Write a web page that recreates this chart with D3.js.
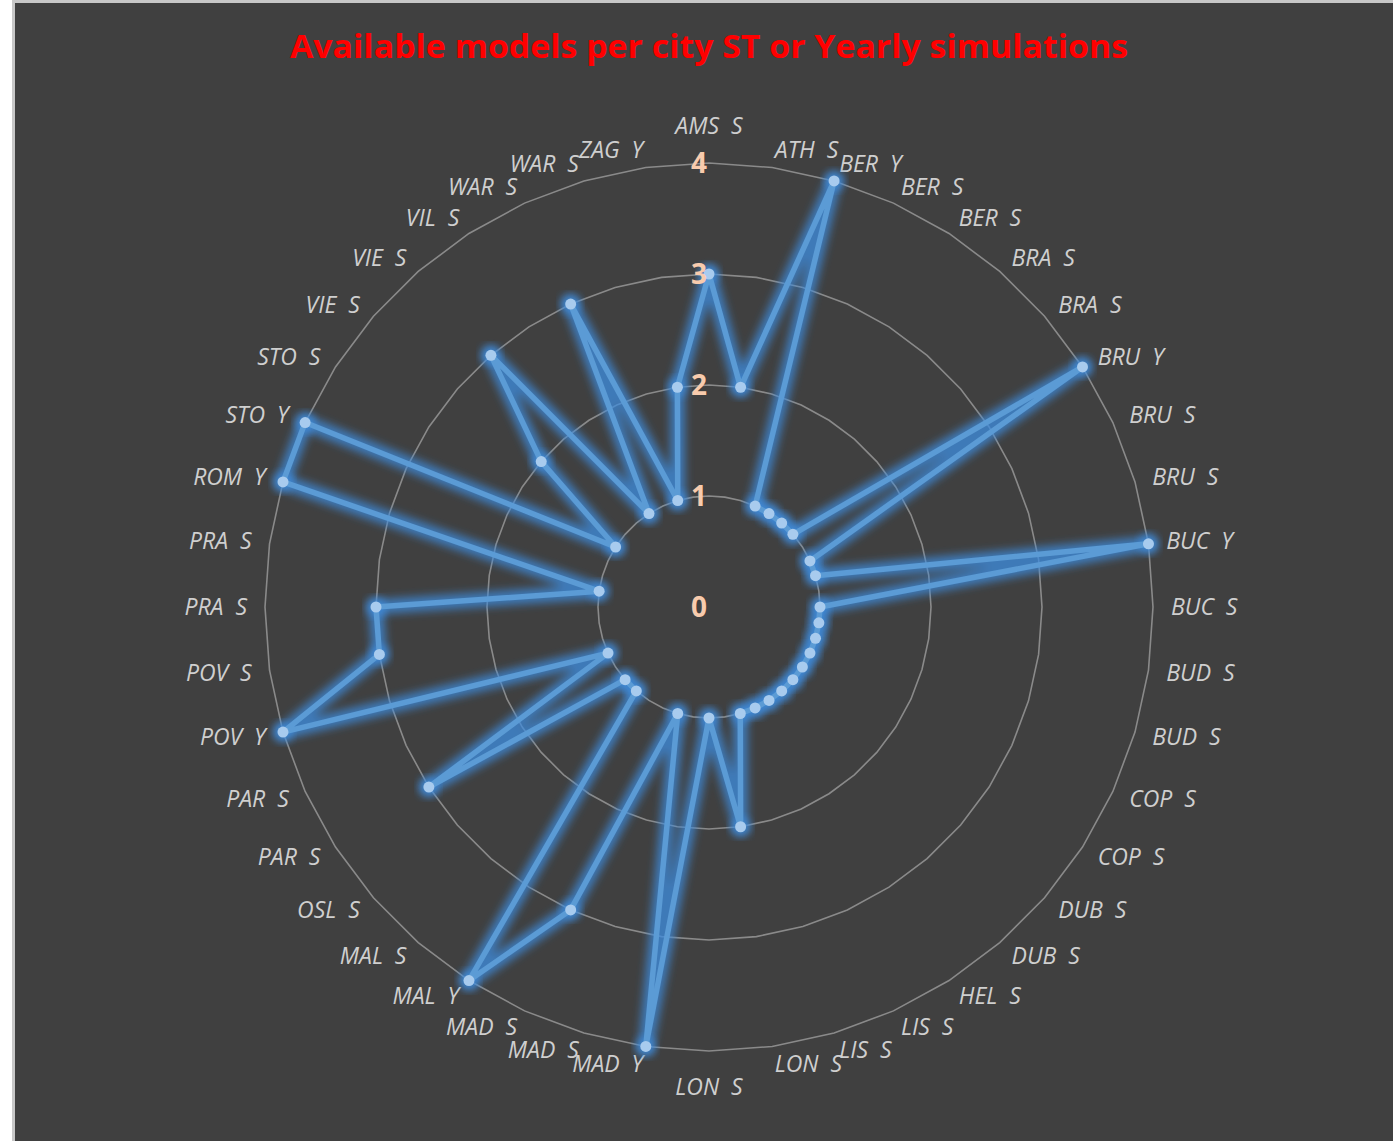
<!DOCTYPE html>
<html>
<head>
<meta charset="utf-8">
<script src="https://cdn.jsdelivr.net/npm/d3@7"></script>
<style>
  body { margin: 0; background: #fff; }
</style>
</head>
<body>
<div id="radar"></div>
<script>
// categories clockwise from the top
const cities = ["AMS  S", "ATH  S", "BER  Y", "BER  S", "BER  S", "BRA  S", "BRA  S", "BRU  Y", "BRU  S", "BRU  S",
  "BUC  Y", "BUC  S", "BUD  S", "BUD  S", "COP  S", "COP  S", "DUB  S", "DUB  S", "HEL  S", "LIS  S",
  "LIS  S", "LON  S", "LON  S", "MAD  Y", "MAD  S", "MAD  S", "MAL  Y", "MAL  S", "OSL  S", "PAR  S",
  "PAR  S", "POV  Y", "POV  S", "PRA  S", "PRA  S", "ROM  Y", "STO  Y", "STO  S", "VIE  S", "VIE  S",
  "VIL  S", "WAR  S", "WAR  S", "ZAG  Y"];
const models = [3, 2, 4, 1, 1, 1, 1, 4, 1, 1,
  4, 1, 1, 1, 1, 1, 1, 1, 1, 1,
  1, 2, 1, 4, 1, 3, 4, 1, 1, 3,
  1, 4, 3, 3, 1, 4, 4, 1, 2, 3,
  1, 3, 1, 2];
const ticks = [0, 1, 2, 3, 4];
const title = "Available models per city ST or Yearly simulations";

const W = 1393, H = 1141;
const cx = 709, cy = 607, R = 444;

const svg = d3.select("#radar").append("svg")
  .attr("width", W).attr("height", H);

svg.append("rect")
  .attr("x", 13.5).attr("y", 1.5)
  .attr("width", W).attr("height", H)
  .attr("fill", "#404040")
  .attr("stroke", "#c8c8c8").attr("stroke-width", 3);

// glow filter
const defs = svg.append("defs");
const glow = defs.append("filter").attr("id", "glow")
  .attr("x", "-20%").attr("y", "-20%").attr("width", "140%").attr("height", "140%");
glow.append("feGaussianBlur").attr("stdDeviation", 4);

svg.append("text")
  .attr("x", cx).attr("y", 58)
  .attr("text-anchor", "middle")
  .attr("font-family", "'Open Sans', sans-serif")
  .attr("font-weight", "bold")
  .attr("font-size", 32)
  .attr("fill", "#ff0000")
  .attr("textLength", 838)
  .attr("lengthAdjust", "spacingAndGlyphs")
  .text(title);

const r = d3.scaleLinear().domain([0, 4]).range([0, R]);
const angle = d3.scaleLinear().domain([0, cities.length]).range([0, 2 * Math.PI]);

const g = svg.append("g").attr("transform", "translate(" + cx + "," + cy + ")");

// gridlines (polygons)
const ring = d3.lineRadial()
  .angle((d, i) => angle(i))
  .radius(d => r(d))
  .curve(d3.curveLinearClosed);

g.selectAll(".grid")
  .data(ticks.slice(1))
  .enter().append("path")
  .attr("class", "grid")
  .attr("d", t => ring(cities.map(() => t)))
  .attr("fill", "none")
  .attr("stroke", "#8a8a8a")
  .attr("stroke-width", 1.6);

// category labels
const LR = 462;
g.selectAll(".cat")
  .data(cities)
  .enter().append("text")
  .attr("class", "cat")
  .attr("x", (d, i) => LR * Math.sin(angle(i)))
  .attr("y", (d, i) => -LR * Math.cos(angle(i)))
  .attr("dy", (d, i) => {
    const s = Math.sin(angle(i)), c = Math.cos(angle(i));
    if (Math.abs(s) < 0.01) return c > 0 ? "-0.5em" : "1.15em";
    return "0.35em";
  })
  .attr("text-anchor", (d, i) => {
    const s = Math.sin(angle(i));
    return Math.abs(s) < 0.01 ? "middle" : (s > 0 ? "start" : "end");
  })
  .attr("font-family", "'Open Sans', sans-serif")
  .attr("font-style", "italic")
  .attr("font-size", 23)
  .attr("fill", "#cfcfcf")
  .style("white-space", "pre")
  .text(d => d);

// series
const line = d3.lineRadial()
  .angle((d, i) => angle(i))
  .radius(d => r(d))
  .curve(d3.curveLinearClosed);

g.append("path")
  .attr("d", line(models))
  .attr("fill", "none")
  .attr("stroke", "#3f8ee0")
  .attr("stroke-opacity", 0.75)
  .attr("stroke-width", 15)
  .attr("stroke-linejoin", "round")
  .attr("filter", "url(#glow)");

g.selectAll(".halo")
  .data(models)
  .enter().append("circle")
  .attr("class", "halo")
  .attr("cx", (d, i) => r(d) * Math.sin(angle(i)))
  .attr("cy", (d, i) => -r(d) * Math.cos(angle(i)))
  .attr("r", 10)
  .attr("fill", "#3f8ee0")
  .attr("opacity", 0.75)
  .attr("filter", "url(#glow)");

g.append("path")
  .attr("d", line(models))
  .attr("fill", "none")
  .attr("stroke", "#5b9bd5")
  .attr("stroke-width", 5.5)
  .attr("stroke-linejoin", "round");

g.selectAll(".dot")
  .data(models)
  .enter().append("circle")
  .attr("class", "dot")
  .attr("cx", (d, i) => r(d) * Math.sin(angle(i)))
  .attr("cy", (d, i) => -r(d) * Math.cos(angle(i)))
  .attr("r", 5.5)
  .attr("fill", "#a8cbee");

// value axis labels
g.selectAll(".tick")
  .data(ticks)
  .enter().append("text")
  .attr("class", "tick")
  .attr("x", -10)
  .attr("y", d => -r(d))
  .attr("dy", "0.36em")
  .attr("text-anchor", "middle")
  .attr("font-family", "'Open Sans', sans-serif")
  .attr("font-weight", "bold")
  .attr("font-size", 28)
  .attr("fill", "#f8cbad")
  .text(d => d);
</script>
</body>
</html>
